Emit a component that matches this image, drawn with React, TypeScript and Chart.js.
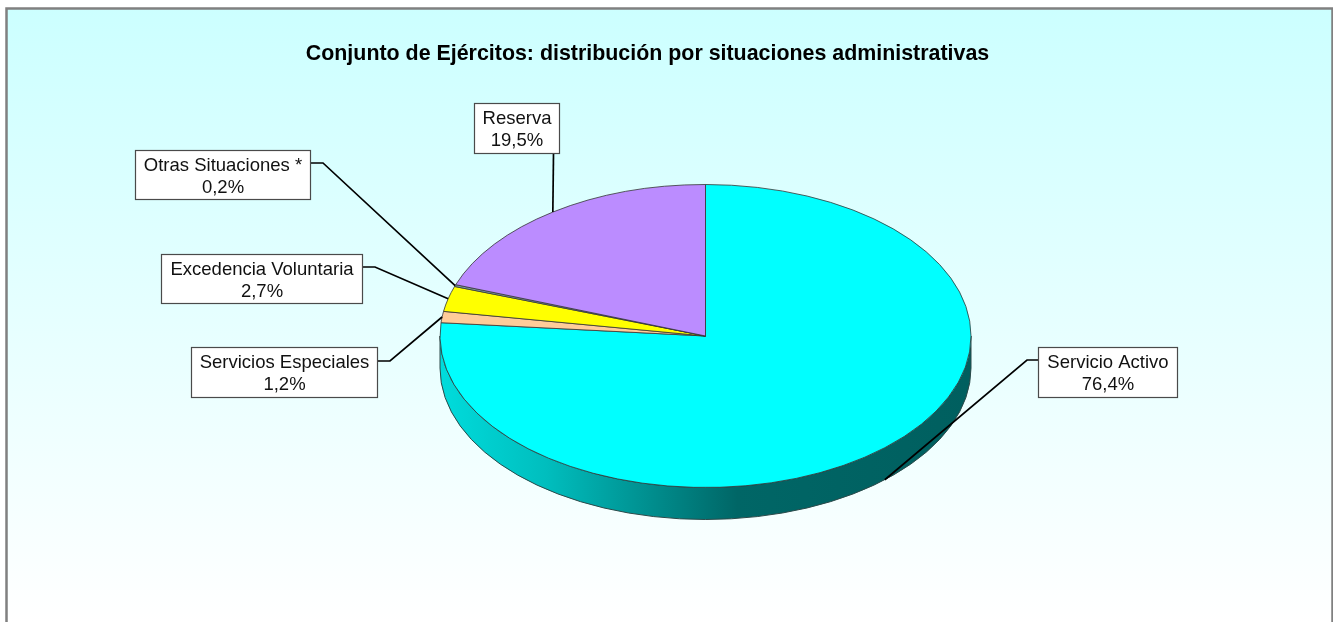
import React, { useEffect, useRef } from "react";
import { Chart, registerables } from "chart.js";

Chart.register(...registerables);

const categories = ["Servicio Activo", "Servicios Especiales", "Excedencia Voluntaria", "Otras Situaciones *", "Reserva"];
const percentages = [76.4, 1.2, 2.7, 0.2, 19.5];
const sliceColors = ["#00FFFF", "#FFCC99", "#FFFF00", "#7FA3A3", "#BB8CFF"];
const titleText = "Conjunto de Ejércitos: distribución por situaciones administrativas";

const FONT = '"Liberation Sans", Arial, sans-serif';
const PIE = { cx: 705.5, cy: 336, rx: 265.5, ry: 151.5, depth: 32 };
// label box [left, top, right, bottom] and leader elbow [x, y]
const boxes = [
  { box: [1038, 347, 1178, 398], elbow: [1027, 360], from: [1038, 360], wall: true },
  { box: [191, 347, 378, 398], elbow: [390, 361], from: [378, 361], wall: false },
  { box: [161, 254, 363, 304], elbow: [375, 267], from: [363, 267], wall: false },
  { box: [135, 150, 311, 200], elbow: [323, 163], from: [311, 163], wall: false },
  { box: [474, 103, 560, 154], elbow: [553.5, 154], from: [553.5, 154], wall: false },
];

const pie3d = {
  id: "pie3d",
  beforeDraw(chart: any) {
    const { ctx, width, height } = chart;
    ctx.save();
    const g = ctx.createLinearGradient(0, 8, 0, height);
    g.addColorStop(0, "#CCFFFF");
    g.addColorStop(1, "#FFFFFF");
    ctx.fillStyle = g;
    ctx.fillRect(6, 8, width - 7, height - 8);
    ctx.strokeStyle = "#808080";
    ctx.lineWidth = 2.5;
    ctx.beginPath();
    ctx.moveTo(6.5, height + 2);
    ctx.lineTo(6.5, 8.5);
    ctx.lineTo(width - 0.5, 8.5);
    ctx.lineTo(width - 0.5, height + 2);
    ctx.stroke();
    ctx.restore();
  },
  beforeDatasetsDraw(chart: any) {
    const { ctx } = chart;
    const { cx, cy, rx, ry, depth } = PIE;
    ctx.save();
    const g = ctx.createLinearGradient(cx - rx, 0, cx + rx, 0);
    g.addColorStop(0, "#00DCDC");
    g.addColorStop(0.2, "#00BEBE");
    g.addColorStop(0.56, "#006666");
    g.addColorStop(1, "#005F5F");
    ctx.beginPath();
    ctx.ellipse(cx, cy, rx, ry, 0, 0, Math.PI);
    ctx.ellipse(cx, cy + depth, rx, ry, 0, Math.PI, 0, true);
    ctx.closePath();
    ctx.fillStyle = g;
    ctx.fill();
    ctx.strokeStyle = "#2c4a4a";
    ctx.lineWidth = 1;
    ctx.stroke();
    ctx.restore();
    const arc = chart.getDatasetMeta(0).data[0];
    ctx.save();
    ctx.translate(cx, cy);
    ctx.scale(1, ry / rx);
    ctx.translate(-arc.x, -arc.y);
  },
  afterDatasetsDraw(chart: any) {
    const { ctx } = chart;
    ctx.restore();
    const { cx, cy, rx, ry, depth } = PIE;
    const arcs = chart.getDatasetMeta(0).data;
    ctx.save();
    arcs.forEach((arc: any, i: number) => {
      const mid = (arc.startAngle + arc.endAngle) / 2;
      const item = boxes[i];
      const ex = cx + rx * Math.cos(mid);
      const ey = cy + ry * Math.sin(mid) + (item.wall ? depth : 0);
      ctx.strokeStyle = "#000000";
      ctx.lineWidth = 1.7;
      ctx.beginPath();
      ctx.moveTo(item.from[0], item.from[1]);
      ctx.lineTo(item.elbow[0], item.elbow[1]);
      ctx.lineTo(ex, ey);
      ctx.stroke();
      const [l, t, r, b] = item.box;
      ctx.fillStyle = "#FFFFFF";
      ctx.fillRect(l, t, r - l, b - t);
      ctx.strokeStyle = "#4a4a4a";
      ctx.lineWidth = 1.2;
      ctx.strokeRect(l + 0.5, t + 0.5, r - l - 1, b - t - 1);
      ctx.fillStyle = "#111111";
      ctx.font = `18.5px ${FONT}`;
      ctx.textAlign = "center";
      ctx.textBaseline = "middle";
      const mx = (l + r) / 2;
      ctx.fillText(categories[i], mx, t + 15.5);
      ctx.fillText(percentages[i].toFixed(1).replace(".", ",") + "%", mx, t + 37.5);
    });
    ctx.restore();
  },
};

export default function App() {
  const ref = useRef<HTMLCanvasElement>(null);
  useEffect(() => {
    const chart = new Chart(ref.current as HTMLCanvasElement, {
      type: "pie",
      data: {
        labels: categories,
        datasets: [
          {
            data: percentages,
            backgroundColor: sliceColors,
            borderColor: "#333333",
            borderWidth: 1,
            radius: PIE.rx,
            clip: false,
          } as any,
        ],
      },
      options: {
        responsive: false,
        animation: false,
        layout: { padding: { left: 0, right: 38, top: 0, bottom: 0 } },
        plugins: {
          legend: { display: false },
          tooltip: { enabled: false },
          title: {
            display: true,
            text: titleText,
            color: "#000000",
            font: { family: FONT, size: 21.4, weight: "bold" },
            padding: { top: 41, bottom: 10 },
          },
        },
      },
      plugins: [pie3d],
    } as any);
    return () => chart.destroy();
  }, []);
  return (
    <canvas
      ref={ref}
      width={1333}
      height={622}
      style={{ position: "fixed", left: 0, top: 0, width: 1333, height: 622, display: "block" }}
    />
  );
}
